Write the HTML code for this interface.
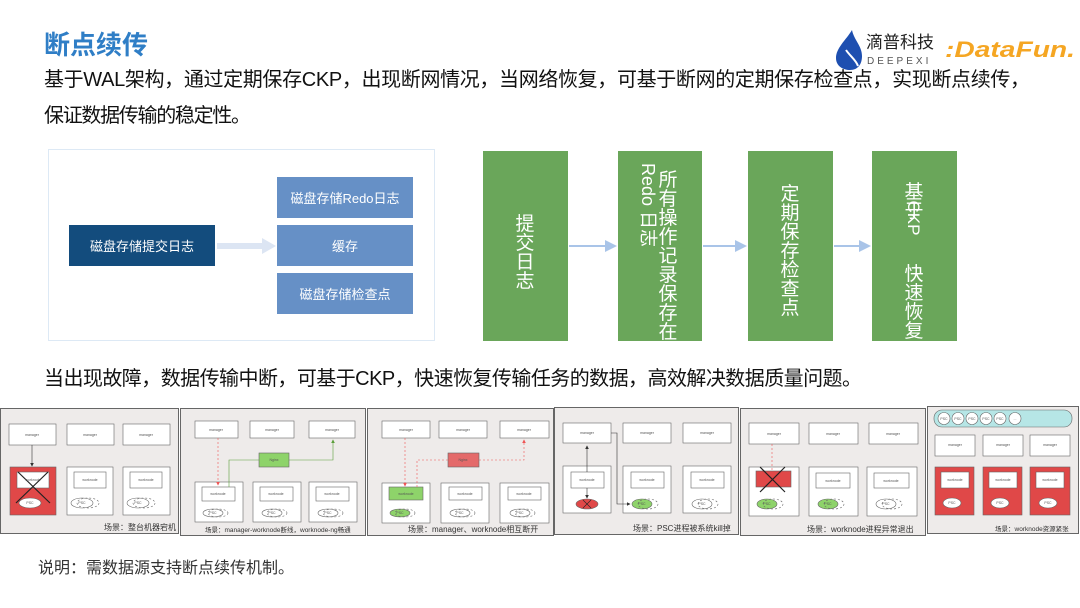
<!DOCTYPE html>
<html><head><meta charset="utf-8"><style>
html,body{margin:0;padding:0;background:#fff}
svg{display:block}
text{font-family:"Liberation Sans","Noto Sans CJK SC",sans-serif}
</style></head><body>
<svg width="1080" height="608" viewBox="0 0 1080 608" xmlns="http://www.w3.org/2000/svg">
<defs>
<marker id="ag" markerWidth="6" markerHeight="6" refX="5" refY="3" orient="auto"><path d="M0,0 L6,3 L0,6z" fill="#5a9e3a"/></marker>
<marker id="ar" markerWidth="6" markerHeight="6" refX="5" refY="3" orient="auto"><path d="M0,0 L6,3 L0,6z" fill="#e55"/></marker>
<marker id="ak" markerWidth="6" markerHeight="6" refX="5" refY="3" orient="auto"><path d="M0,0 L6,3 L0,6z" fill="#333"/></marker>
<marker id="ab" markerWidth="6" markerHeight="6" refX="5" refY="3" orient="auto"><path d="M0,0 L6,3 L0,6z" fill="#a9c4e8"/></marker>
</defs>
<!-- header -->
<text x="44" y="54" font-size="26" font-weight="bold" fill="#2f7ec6">断点续传</text>
<text x="44" y="86" font-size="20" fill="#111" textLength="986">基于WAL架构，通过定期保存CKP，出现断网情况，当网络恢复，可基于断网的定期保存检查点，实现断点续传，</text>
<text x="44" y="122" font-size="20" fill="#111" textLength="207">保证数据传输的稳定性。</text>
<!-- logos -->
<path d="M852,30 C846,40 836,48 836,58 C836,66 843,70 850,70 C858,70 862,64 862,56 C862,46 854,40 852,30z" fill="#1e4fb0"/>
<path d="M846,50 C850,56 856,60 858,66" stroke="#fff" stroke-width="2" fill="none"/>
<text x="866" y="48" font-size="17" fill="#222" textLength="68">滴普科技</text>
<text x="867" y="64" font-size="10" fill="#555" letter-spacing="3">DEEPEXI</text>
<text x="945" y="57" font-size="22" font-weight="bold" font-style="italic" fill="#f5a623" textLength="130" lengthAdjust="spacingAndGlyphs">:DataFun.</text>
<!-- left diagram -->
<rect x="48.5" y="149.5" width="386" height="191" fill="#fff" stroke="#dde9f5"/>
<rect x="69" y="225" width="146" height="41" fill="#134c7d"/>
<text x="142" y="251" font-size="13" fill="#fff" text-anchor="middle">磁盘存储提交日志</text>
<path d="M217,246 H262" stroke="#dce5f3" stroke-width="6"/>
<path d="M262,238 L276,246 L262,254z" fill="#dce5f3"/>
<rect x="277" y="177" width="136" height="41" fill="#6690c6"/>
<rect x="277" y="225" width="136" height="41" fill="#6690c6"/>
<rect x="277" y="273" width="136" height="41" fill="#6690c6"/>
<text x="345" y="203" font-size="13" fill="#fff" text-anchor="middle">磁盘存储Redo日志</text>
<text x="345" y="251" font-size="13" fill="#fff" text-anchor="middle">缓存</text>
<text x="345" y="299" font-size="13" fill="#fff" text-anchor="middle">磁盘存储检查点</text>
<!-- right flow -->
<rect x="483" y="151" width="85" height="190" fill="#6aa65a"/>
<rect x="618" y="151" width="84" height="190" fill="#6aa65a"/>
<rect x="748" y="151" width="85" height="190" fill="#6aa65a"/>
<rect x="872" y="151" width="85" height="190" fill="#6aa65a"/>
<path d="M569,246 H615" stroke="#a9c4e8" stroke-width="2" marker-end="url(#ab)"/>
<path d="M703,246 H745" stroke="#a9c4e8" stroke-width="2" marker-end="url(#ab)"/>
<path d="M834,246 H869" stroke="#a9c4e8" stroke-width="2" marker-end="url(#ab)"/>
<g font-size="19" fill="#fff" text-anchor="middle">
<text x="525" y="230">提</text><text x="525" y="249">交</text><text x="525" y="268">日</text><text x="525" y="287">志</text>
<text x="668" y="186">所</text><text x="668" y="205">有</text><text x="668" y="224">操</text><text x="668" y="243">作</text><text x="668" y="262">记</text><text x="668" y="281">录</text><text x="668" y="300">保</text><text x="668" y="319">存</text><text x="668" y="338">在</text>
<text transform="translate(642,205) rotate(90)" font-size="18">Redo 日志</text>
<text x="790" y="200">定</text><text x="790" y="219">期</text><text x="790" y="238">保</text><text x="790" y="257">存</text><text x="790" y="276">检</text><text x="790" y="295">查</text><text x="790" y="314">点</text>
<text x="914" y="198">基</text><text x="914" y="217">于</text>
<text transform="translate(908,218) rotate(90)" font-size="17">CKP</text>
<text x="914" y="280">快</text><text x="914" y="299">速</text><text x="914" y="318">恢</text><text x="914" y="337">复</text>
</g>
<text x="44" y="385" font-size="20" fill="#111" textLength="818">当出现故障，数据传输中断，可基于CKP，快速恢复传输任务的数据，高效解决数据质量问题。</text>
<!-- bottom panels -->
<g stroke="#666" stroke-width="1" fill="#eeebea">
<rect x="0.5" y="408.5" width="178" height="125"/>
<rect x="180.5" y="408.5" width="185" height="127"/>
<rect x="367.5" y="408.5" width="186" height="127"/>
<rect x="554.5" y="407.5" width="184" height="127"/>
<rect x="740.5" y="408.5" width="185" height="127"/>
<rect x="927.5" y="406.5" width="151" height="127"/>
</g>
<g font-size="3.5" fill="#555" text-anchor="middle" stroke="#666" stroke-width="0.6">
<!-- panel1 -->
<rect x="9" y="424" width="47" height="21" fill="#fff"/><rect x="67" y="424" width="47" height="21" fill="#fff"/><rect x="123" y="424" width="47" height="21" fill="#fff"/>
<rect x="10" y="467" width="46" height="48" fill="#e04848"/><rect x="67" y="467" width="46" height="48" fill="#fff"/><rect x="123" y="467" width="47" height="48" fill="#fff"/>
<rect x="17" y="472" width="32" height="16" fill="#fff"/><rect x="74" y="472" width="32" height="16" fill="#fff"/><rect x="130" y="472" width="32" height="16" fill="#fff"/>
<ellipse cx="30" cy="503" rx="11" ry="5" fill="#fff"/><ellipse cx="82" cy="503" rx="11" ry="5" fill="#fff"/><ellipse cx="88" cy="503" rx="11" ry="5" fill="none" stroke-dasharray="2"/>
<ellipse cx="138" cy="503" rx="11" ry="5" fill="#fff"/><ellipse cx="144" cy="503" rx="11" ry="5" fill="none" stroke-dasharray="2"/>
<path d="M32,445 V466" stroke="#333" marker-end="url(#ak)"/>
<path d="M18,472 L50,503 M48,472 L16,503" stroke="#222" stroke-width="1.2"/>
<!-- panel2 -->
<rect x="195" y="421" width="43" height="17" fill="#fff"/><rect x="250" y="421" width="44" height="17" fill="#fff"/><rect x="309" y="421" width="46" height="17" fill="#fff"/>
<rect x="259" y="453" width="30" height="14" fill="#8ed36a"/>
<rect x="195" y="482" width="48" height="40" fill="#fff"/><rect x="253" y="482" width="48" height="40" fill="#fff"/><rect x="309" y="482" width="48" height="40" fill="#fff"/>
<rect x="202" y="487" width="33" height="14" fill="#fff"/><rect x="260" y="487" width="33" height="14" fill="#fff"/><rect x="316" y="487" width="33" height="14" fill="#fff"/>
<ellipse cx="213" cy="513" rx="10" ry="4" fill="#fff"/><ellipse cx="218" cy="513" rx="10" ry="4" fill="none" stroke-dasharray="2"/>
<ellipse cx="272" cy="513" rx="10" ry="4" fill="#fff"/><ellipse cx="277" cy="513" rx="10" ry="4" fill="none" stroke-dasharray="2"/>
<ellipse cx="328" cy="513" rx="10" ry="4" fill="#fff"/><ellipse cx="333" cy="513" rx="10" ry="4" fill="none" stroke-dasharray="2"/>
<path d="M218,438 V485" stroke="#e55" stroke-dasharray="2" marker-end="url(#ar)"/>
<path d="M229,487 V460 H259 M289,460 H333 V440" stroke="#5a9e3a" fill="none" marker-end="url(#ag)"/>
<!-- panel3 -->
<rect x="382" y="421" width="48" height="17" fill="#fff"/><rect x="439" y="421" width="48" height="17" fill="#fff"/><rect x="500" y="421" width="49" height="17" fill="#fff"/>
<rect x="448" y="453" width="31" height="14" fill="#e46a6a"/>
<rect x="382" y="483" width="48" height="40" fill="#fff"/><rect x="441" y="483" width="48" height="40" fill="#fff"/><rect x="500" y="483" width="49" height="40" fill="#fff"/>
<rect x="389" y="487" width="34" height="13" fill="#8ed36a"/><rect x="449" y="487" width="33" height="13" fill="#fff"/><rect x="508" y="487" width="33" height="13" fill="#fff"/>
<ellipse cx="400" cy="513" rx="10" ry="4" fill="#8ed36a"/><ellipse cx="405" cy="513" rx="10" ry="4" fill="none" stroke-dasharray="2"/>
<ellipse cx="460" cy="513" rx="10" ry="4" fill="#fff"/><ellipse cx="465" cy="513" rx="10" ry="4" fill="none" stroke-dasharray="2"/>
<ellipse cx="520" cy="513" rx="10" ry="4" fill="#fff"/><ellipse cx="525" cy="513" rx="10" ry="4" fill="none" stroke-dasharray="2"/>
<path d="M405,438 V486" stroke="#e55" stroke-dasharray="2" fill="none" marker-end="url(#ar)"/>
<path d="M417,487 V460 H448 M479,460 H524 V440" stroke="#e55" stroke-dasharray="2" fill="none" marker-end="url(#ar)"/>
<!-- panel4 -->
<rect x="563" y="423" width="48" height="20" fill="#fff"/><rect x="623" y="423" width="48" height="20" fill="#fff"/><rect x="683" y="423" width="48" height="20" fill="#fff"/>
<rect x="563" y="466" width="48" height="47" fill="#fff"/><rect x="623" y="466" width="48" height="47" fill="#fff"/><rect x="683" y="466" width="48" height="47" fill="#fff"/>
<rect x="571" y="472" width="33" height="16" fill="#fff"/><rect x="631" y="472" width="33" height="16" fill="#fff"/><rect x="691" y="472" width="33" height="16" fill="#fff"/>
<ellipse cx="587" cy="504" rx="11" ry="5" fill="#e04848"/>
<ellipse cx="642" cy="504" rx="10" ry="5" fill="#8ed36a"/><ellipse cx="648" cy="504" rx="10" ry="5" fill="none" stroke-dasharray="2"/>
<ellipse cx="702" cy="504" rx="10" ry="5" fill="#fff"/><ellipse cx="708" cy="504" rx="10" ry="5" fill="none" stroke-dasharray="2"/>
<path d="M587,472 V446" stroke="#333" marker-end="url(#ak)"/>
<path d="M587,488 V498" stroke="#333" marker-end="url(#ak)"/>
<path d="M611,433 H617 V504 H630" stroke="#333" fill="none" marker-end="url(#ak)"/>
<path d="M583,500 L591,508 M591,500 L583,508" stroke="#222"/>
<!-- panel5 -->
<rect x="749" y="423" width="50" height="21" fill="#fff"/><rect x="809" y="423" width="49" height="21" fill="#fff"/><rect x="869" y="423" width="49" height="21" fill="#fff"/>
<rect x="749" y="467" width="50" height="49" fill="#fff"/><rect x="809" y="467" width="49" height="49" fill="#fff"/><rect x="867" y="467" width="50" height="49" fill="#fff"/>
<rect x="756" y="471" width="35" height="16" fill="#e04848"/><rect x="816" y="473" width="34" height="15" fill="#fff"/><rect x="874" y="473" width="35" height="15" fill="#fff"/>
<ellipse cx="767" cy="504" rx="10" ry="5" fill="#8ed36a"/><ellipse cx="773" cy="504" rx="10" ry="5" fill="none" stroke-dasharray="2"/>
<ellipse cx="828" cy="504" rx="10" ry="5" fill="#8ed36a"/><ellipse cx="834" cy="504" rx="10" ry="5" fill="none" stroke-dasharray="2"/>
<ellipse cx="886" cy="504" rx="10" ry="5" fill="#fff"/><ellipse cx="892" cy="504" rx="10" ry="5" fill="none" stroke-dasharray="2"/>
<path d="M772,444 V470" stroke="#e55" stroke-dasharray="2"/>
<path d="M760,467 L785,492 M785,467 L760,492" stroke="#222" stroke-width="1.2"/>
<!-- panel6 -->
<rect x="934" y="410" width="138" height="17" rx="8" fill="#b6e6e6"/>
<circle cx="944" cy="418.5" r="6" fill="#fff"/><circle cx="958" cy="418.5" r="6" fill="#fff"/><circle cx="972" cy="418.5" r="6" fill="#fff"/><circle cx="986" cy="418.5" r="6" fill="#fff"/><circle cx="1000" cy="418.5" r="6" fill="#fff"/><circle cx="1015" cy="418.5" r="6" fill="#fff"/>
<rect x="935" y="435" width="40" height="21" fill="#fff"/><rect x="983" y="435" width="40" height="21" fill="#fff"/><rect x="1030" y="435" width="40" height="21" fill="#fff"/>
<rect x="935" y="467" width="39" height="48" fill="#e04848"/><rect x="983" y="467" width="39" height="48" fill="#e04848"/><rect x="1030" y="467" width="40" height="48" fill="#e04848"/>
<rect x="941" y="472" width="28" height="16" fill="#fff"/><rect x="989" y="472" width="28" height="16" fill="#fff"/><rect x="1036" y="472" width="28" height="16" fill="#fff"/>
<ellipse cx="952" cy="503" rx="9" ry="5" fill="#fff"/><ellipse cx="1000" cy="503" rx="9" ry="5" fill="#fff"/><ellipse cx="1048" cy="503" rx="9" ry="5" fill="#fff"/>
</g>
<g font-size="3.5" fill="#555" text-anchor="middle">
<text x="32" y="436">manager</text><text x="90" y="436">manager</text><text x="146" y="436">manager</text>
<text x="33" y="481">worknode</text><text x="90" y="481">worknode</text><text x="146" y="481">worknode</text>
<text x="30" y="504">PSC</text><text x="82" y="504">PSC</text><text x="138" y="504">PSC</text>
<text x="216" y="431">manager</text><text x="272" y="431">manager</text><text x="332" y="431">manager</text><text x="274" y="461">Nginx</text>
<text x="218" y="495">worknode</text><text x="276" y="495">worknode</text><text x="332" y="495">worknode</text>
<text x="213" y="514">PSC</text><text x="272" y="514">PSC</text><text x="328" y="514">PSC</text>
<text x="406" y="431">manager</text><text x="463" y="431">manager</text><text x="524" y="431">manager</text><text x="463" y="461">Nginx</text>
<text x="406" y="495">worknode</text><text x="465" y="495">worknode</text><text x="524" y="495">worknode</text>
<text x="400" y="514">PSC</text><text x="460" y="514">PSC</text><text x="520" y="514">PSC</text>
<text x="587" y="434">manager</text><text x="647" y="434">manager</text><text x="707" y="434">manager</text>
<text x="587" y="481">worknode</text><text x="647" y="481">worknode</text><text x="707" y="481">worknode</text>
<text x="642" y="505">PSC</text><text x="702" y="505">PSC</text>
<text x="774" y="435">manager</text><text x="833" y="435">manager</text><text x="893" y="435">manager</text>
<text x="833" y="482">worknode</text><text x="891" y="482">worknode</text>
<text x="767" y="505">PSC</text><text x="828" y="505">PSC</text><text x="886" y="505">PSC</text>
<text x="955" y="446">manager</text><text x="1003" y="446">manager</text><text x="1050" y="446">manager</text>
<text x="955" y="481">worknode</text><text x="1003" y="481">worknode</text><text x="1050" y="481">worknode</text>
<text x="952" y="504">PSC</text><text x="1000" y="504">PSC</text><text x="1048" y="504">PSC</text>
<text x="944" y="420">PSC</text><text x="958" y="420">PSC</text><text x="972" y="420">PSC</text><text x="986" y="420">PSC</text><text x="1000" y="420">PSC</text><text x="1015" y="420">...</text>
</g>
<g font-size="8" fill="#333">
<text x="104" y="530">场景：整台机器宕机</text>
<text x="205" y="532" font-size="6.5">场景：manager-worknode断线，worknode-ng畅通</text>
<text x="408" y="532">场景：manager、worknode相互断开</text>
<text x="633" y="531">场景：PSC进程被系统kill掉</text>
<text x="807" y="532">场景：worknode进程异常退出</text>
<text x="995" y="531" font-size="6.5">场景：worknode资源紧张</text>
</g>
<text x="38" y="573" font-size="16" fill="#333">说明：需数据源支持断点续传机制。</text>
</svg>
</body></html>
